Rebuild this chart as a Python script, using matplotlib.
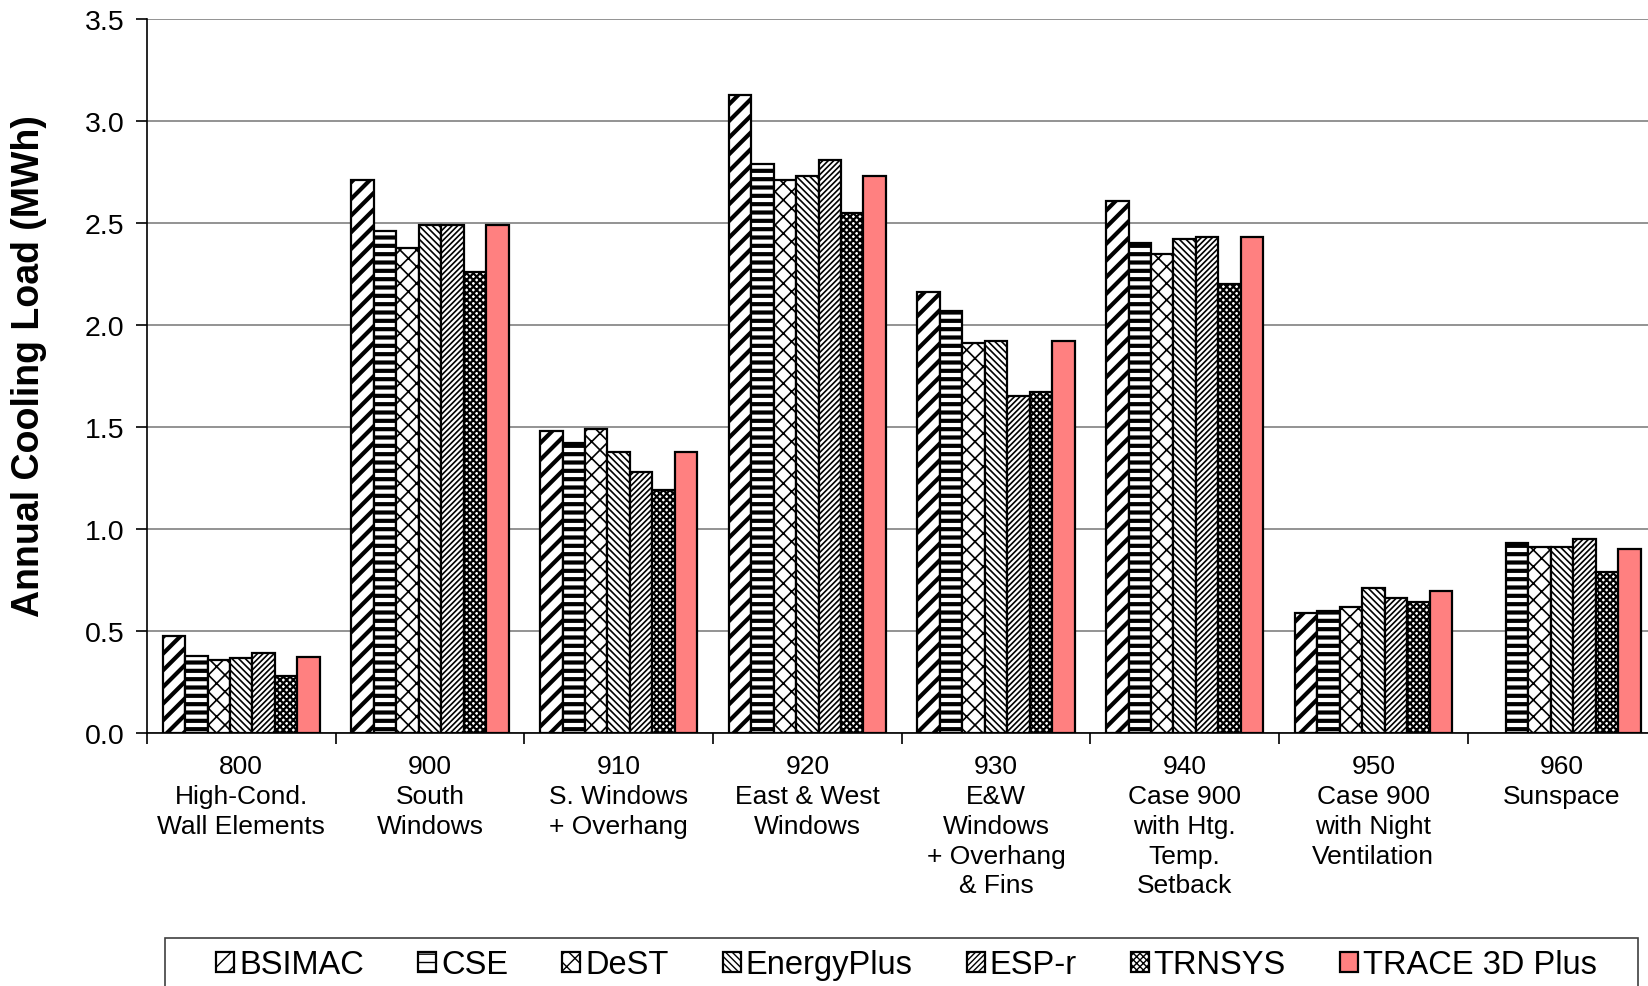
import numpy as np
import matplotlib
matplotlib.use("Agg")
import matplotlib.pyplot as plt
from matplotlib.patches import Rectangle

plt.rcParams['font.family'] = ['Liberation Sans', 'DejaVu Sans']

cases = ["800\nHigh-Cond.\nWall Elements", "900\nSouth\nWindows", "910\nS. Windows\n+ Overhang",
         "920\nEast & West\nWindows", "930\nE&W\nWindows\n+ Overhang\n& Fins",
         "940\nCase 900\nwith Htg.\nTemp.\nSetback", "950\nCase 900\nwith Night\nVentilation",
         "960\nSunspace"]

programs = ["BSIMAC", "CSE", "DeST", "EnergyPlus", "ESP-r", "TRNSYS", "TRACE 3D Plus"]

bsimac = [0.474, 2.71, 1.48, 3.13, 2.16, 2.61, 0.59, np.nan]
cse = [0.38, 2.46, 1.42, 2.79, 2.07, 2.40, 0.60, 0.93]
dest = [0.36, 2.38, 1.49, 2.71, 1.91, 2.35, 0.62, 0.91]
energyplus = [0.37, 2.49, 1.38, 2.73, 1.92, 2.42, 0.71, 0.91]
espr = [0.39, 2.49, 1.28, 2.81, 1.65, 2.43, 0.66, 0.95]
trnsys = [0.28, 2.26, 1.19, 2.55, 1.67, 2.20, 0.64, 0.79]
trace = [0.375, 2.49, 1.38, 2.73, 1.92, 2.43, 0.695, 0.90]

series = [bsimac, cse, dest, energyplus, espr, trnsys, trace]
hatches = ['//', '--', 'xx', '\\\\\\\\\\', '//////', 'xxxxx', None]
hatch_lw = [3.0, 3.0, 1.2, 1.2, 1.2, 1.6, 1.0]
faces = ['white'] * 6 + ['#ff8080']

fig = plt.figure(figsize=(16.49, 9.87), dpi=100)
ax = fig.add_axes([0.0891, 0.2563, 0.9154, 0.7234])

x = np.arange(len(cases))
w = 0.119
for i, (vals, name) in enumerate(zip(series, programs)):
    with plt.rc_context({'hatch.linewidth': hatch_lw[i]}):
        bars = ax.bar(x + (i - 3) * w, vals, w, label=name, color=faces[i],
                      edgecolor='black', linewidth=1.6, hatch=hatches[i], zorder=3)
        for b in bars:
            if hasattr(b, 'set_hatch_linewidth'):
                b.set_hatch_linewidth(hatch_lw[i])

ax.set_xlim(-0.5, len(cases) - 0.5)
ax.set_ylim(0, 3.5)
ax.set_yticks(np.arange(0, 3.51, 0.5))
ax.set_yticklabels([f"{v:.1f}" for v in np.arange(0, 3.51, 0.5)], fontsize=20.5)
ax.yaxis.grid(True, color='#808080', linewidth=1.2, zorder=0)
ax.set_axisbelow(True)

ax.set_xticks(x)
ax.set_xticklabels(cases, fontsize=19, linespacing=1.31)
ax.tick_params(axis='x', which='major', length=0, pad=15)
ax.set_xticks(np.arange(-0.5, len(cases)), minor=True)
ax.tick_params(axis='x', which='minor', length=8, width=1.2, direction='out')
ax.tick_params(axis='y', length=8, width=1.2, direction='out', pad=8)

for s in ['top', 'right']:
    ax.spines[s].set_visible(False)
ax.spines['left'].set_linewidth(1.2)
ax.spines['bottom'].set_linewidth(1.2)

ax.set_ylabel("Annual Cooling Load (MWh)", fontsize=27, fontweight='bold')
ax.yaxis.set_label_coords(-0.066, 0.515)

# legend box (runs off the bottom of the figure, as in the original)
fig.add_artist(Rectangle((0.1001, -0.05), 0.8933, 0.0986, transform=fig.transFigure,
                         facecolor='white', edgecolor='#404040', linewidth=1.2))
leg = fig.legend(loc='center', bbox_to_anchor=(0.5497, 0.0215),
                 ncol=7, fontsize=23.5, handlelength=0.55, handleheight=0.55,
                 handletextpad=0.15, columnspacing=1.66, frameon=False,
                 borderaxespad=0, borderpad=0)

fig.savefig('out.png', dpi=100)
